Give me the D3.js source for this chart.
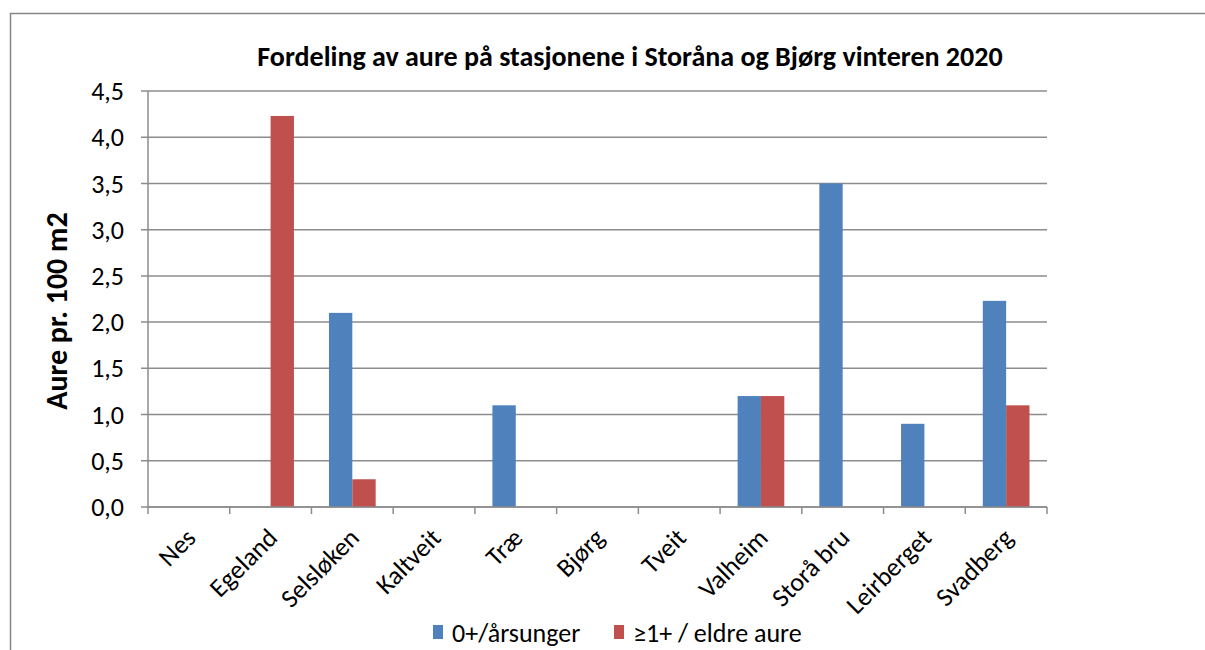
<!DOCTYPE html>
<html>
<head>
<meta charset="utf-8">
<script src="https://cdn.jsdelivr.net/npm/d3@7"></script>
<style>
body { margin: 0; background: #fff; }
text { font-family: Carlito, "Open Sans", "Noto Sans", sans-serif; fill: #000; }
</style>
</head>
<body>
<script>
var width = 1205,
    height = 650;

var stations = ['Nes', 'Egeland', 'Selsløken', 'Kaltveit', 'Træ', 'Bjørg', 'Tveit', 'Valheim', 'Storå bru', 'Leirberget', 'Svadberg'];
var seriesNames = ['0+/årsunger', '≥1+ / eldre aure'];
var yearlings = [0, 0, 2.1, 0, 1.1, 0, 0, 1.2, 3.5, 0.9, 2.23];
var older = [0, 4.23, 0.3, 0, 0, 0, 0, 1.2, 0, 0, 1.1];
var yTicks = [0, 0.5, 1, 1.5, 2, 2.5, 3, 3.5, 4, 4.5];
var colors = ['#4f81bd', '#c0504d'];

var margin = {left: 148, right: 158, top: 91, bottom: 143};

var svg = d3.select('body').append('svg')
    .attr('width', width)
    .attr('height', height);

// chart frame
svg.append('rect')
    .attr('x', 10.5).attr('y', 13.5)
    .attr('width', 1300).attr('height', 700)
    .attr('fill', 'none')
    .attr('stroke', '#868686')
    .attr('stroke-width', 1.5);

var x = d3.scaleBand()
    .domain(stations)
    .range([margin.left, width - margin.right]);

var x1 = d3.scaleBand()
    .domain([0, 1])
    .range([0, x.bandwidth()])
    .paddingInner(0)
    .paddingOuter(0.75);

var y = d3.scaleLinear()
    .domain([0, 4.5])
    .range([height - margin.bottom, margin.top]);

// gridlines
svg.append('g')
    .selectAll('line')
    .data(yTicks)
    .join('line')
    .attr('x1', margin.left - 7)
    .attr('x2', width - margin.right)
    .attr('y1', function(d) { return y(d); })
    .attr('y2', function(d) { return y(d); })
    .attr('stroke', '#8c8c8c')
    .attr('stroke-width', 1.5);

// y axis line
svg.append('line')
    .attr('x1', margin.left).attr('x2', margin.left)
    .attr('y1', y(4.5)).attr('y2', y(0))
    .attr('stroke', '#8c8c8c')
    .attr('stroke-width', 1.5);

// y tick labels
svg.append('g')
    .selectAll('text')
    .data(yTicks)
    .join('text')
    .attr('x', 124)
    .attr('y', function(d) { return y(d); })
    .attr('dy', '0.35em')
    .attr('text-anchor', 'end')
    .style('font-size', '26px')
    .text(function(d) { return d3.format('.1f')(d).replace('.', ','); });

// bars
var rows = stations.map(function(s, i) { return {name: s, values: [yearlings[i], older[i]]}; });

svg.append('g')
    .selectAll('g')
    .data(rows)
    .join('g')
    .attr('transform', function(d) { return 'translate(' + x(d.name) + ',0)'; })
    .selectAll('rect')
    .data(function(d) { return d.values.map(function(v, k) { return {k: k, v: v}; }); })
    .join('rect')
    .attr('x', function(d) { return x1(d.k); })
    .attr('width', x1.bandwidth())
    .attr('y', function(d) { return y(d.v); })
    .attr('height', function(d) { return y(0) - y(d.v); })
    .attr('fill', function(d) { return colors[d.k]; });

// x axis line + ticks
svg.append('line')
    .attr('x1', margin.left).attr('x2', width - margin.right)
    .attr('y1', y(0)).attr('y2', y(0))
    .attr('stroke', '#8c8c8c')
    .attr('stroke-width', 1.5);

var tickPos = stations.map(function(s) { return x(s); }).concat([width - margin.right]);
svg.append('g')
    .selectAll('line')
    .data(tickPos)
    .join('line')
    .attr('x1', function(d) { return d; })
    .attr('x2', function(d) { return d; })
    .attr('y1', y(0))
    .attr('y2', y(0) + 7)
    .attr('stroke', '#8c8c8c')
    .attr('stroke-width', 1.5);

// x labels
svg.append('g')
    .selectAll('text')
    .data(stations)
    .join('text')
    .attr('transform', function(d) {
        return 'translate(' + (x(d) + x.bandwidth() / 2 + 2) + ',' + (y(0) + 26) + ')rotate(-45)';
    })
    .attr('text-anchor', 'end')
    .attr('dy', '0.35em')
    .style('font-size', '26px')
    .text(function(d) { return d; });

// title
svg.append('text')
    .attr('x', 630)
    .attr('y', 66)
    .attr('text-anchor', 'middle')
    .style('font-size', '28px')
    .style('font-weight', 'bold')
    .text('Fordeling av aure på stasjonene i Storåna og Bjørg vinteren 2020');

// y axis title
svg.append('text')
    .attr('transform', 'translate(56,311)rotate(-90)')
    .attr('text-anchor', 'middle')
    .attr('dy', '0.35em')
    .style('font-size', '30px')
    .style('font-weight', 'bold')
    .text('Aure pr. 100 m2');

// legend
var legendX = [433, 614];
var legend = svg.append('g')
    .selectAll('g')
    .data(seriesNames)
    .join('g')
    .attr('transform', function(d, i) { return 'translate(' + legendX[i] + ',625)'; });

legend.append('rect')
    .attr('width', 10).attr('height', 14)
    .attr('fill', function(d, i) { return colors[i]; });

legend.append('text')
    .attr('x', 19)
    .attr('y', 8)
    .attr('dy', '0.35em')
    .style('font-size', '26px')
    .text(function(d) { return d; });
</script>
</body>
</html>
